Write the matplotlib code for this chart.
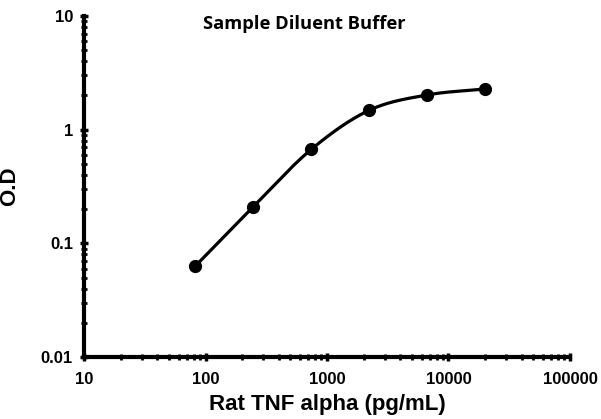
import numpy as np
import matplotlib
matplotlib.use("Agg")
import matplotlib.pyplot as plt
from matplotlib.ticker import LogLocator, FixedLocator, NullFormatter

conc = [82.3, 247, 741, 2222, 6667, 20000]
od = [0.063, 0.21, 0.67, 1.48, 2.02, 2.28]
xticks = [10, 100, 1000, 10000, 100000]
xticklabels = ["10", "100", "1000", "10000", "100000"]
yticks = [0.01, 0.1, 1, 10]
yticklabels = ["0.01", "0.1", "1", "10"]

def catmull(xs, ys, n=30):
    xs = np.asarray(xs, float); ys = np.asarray(ys, float)
    px = np.concatenate([[2*xs[0]-xs[1]], xs, [2*xs[-1]-xs[-2]]])
    py = np.concatenate([[2*ys[0]-ys[1]], ys, [2*ys[-1]-ys[-2]]])
    ox, oy = [], []
    for i in range(1, len(px)-2):
        t = np.linspace(0, 1, n, endpoint=False)
        for P, out in ((px, ox), (py, oy)):
            p0, p1, p2, p3 = P[i-1], P[i], P[i+1], P[i+2]
            out.extend(0.5*((2*p1) + (-p0+p2)*t + (2*p0-5*p1+4*p2-p3)*t**2 + (-p0+3*p1-3*p2+p3)*t**3))
    ox.append(xs[-1]); oy.append(ys[-1])
    return np.array(ox), np.array(oy)

lx, ly = catmull(np.log10(conc), np.log10(od))

fig = plt.figure(figsize=(6.01, 4.19), dpi=100)
ax = fig.add_axes([0.1398, 0.148, 0.9484-0.1398, 0.9618-0.148])
ax.set_xscale("log"); ax.set_yscale("log")
ax.set_xlim(10, 100000); ax.set_ylim(0.01, 10)

ax.plot(10**lx, 10**ly, color="black", lw=2.3, solid_capstyle="round")
ax.plot(conc, od, "o", color="black", ms=8.5)

for s in ["top", "right"]:
    ax.spines[s].set_visible(False)
for s in ["left", "bottom"]:
    ax.spines[s].set_linewidth(3)

ax.xaxis.set_major_locator(FixedLocator(xticks))
ax.yaxis.set_major_locator(FixedLocator(yticks))
ax.set_xticklabels(xticklabels)
ax.set_yticklabels(yticklabels)
ax.xaxis.set_minor_locator(LogLocator(base=10, subs=np.arange(2, 10)))
ax.yaxis.set_minor_locator(LogLocator(base=10, subs=np.arange(2, 10)))
ax.xaxis.set_minor_formatter(NullFormatter())
ax.yaxis.set_minor_formatter(NullFormatter())
ax.tick_params(axis="x", which="major", direction="inout", length=6, width=2.5, pad=8)
ax.tick_params(axis="y", which="major", direction="inout", length=6, width=2.5, pad=5)
ax.tick_params(which="minor", direction="inout", length=4, width=2)

for lab in ax.get_xticklabels() + ax.get_yticklabels():
    lab.set_fontfamily("Liberation Sans")
    lab.set_fontweight("bold")
    lab.set_fontsize(12)

ax.set_xlabel("Rat TNF alpha (pg/mL)", family="Liberation Sans", weight="bold", fontsize=16, labelpad=5)
ax.set_ylabel("O.D", family="Liberation Sans", weight="bold", fontsize=16)
ax.yaxis.set_label_coords(-0.132, 0.5)
fig.text(0.507, 0.943, "Sample Diluent Buffer", family="Open Sans", weight="bold", fontsize=13.2, ha="center", va="center")

fig.savefig("out.png", dpi=100, facecolor="white")
